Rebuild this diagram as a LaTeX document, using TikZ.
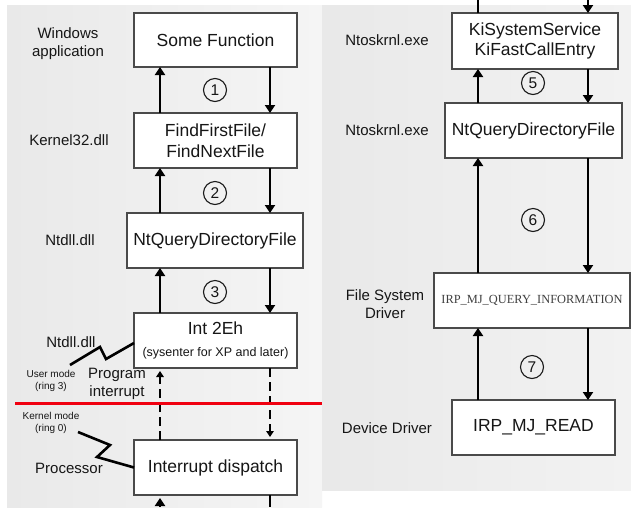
\documentclass[tikz,border=0pt]{standalone}
\usepackage{fontspec}
\setmainfont{Liberation Sans}
\newfontfamily\irpfont{Liberation Serif}
\usetikzlibrary{arrows.meta}
\definecolor{boxgray}{HTML}{4A4A4A}
\definecolor{txt}{HTML}{161616}
\definecolor{panelA}{HTML}{E9E9E9}
\definecolor{panelB}{HTML}{F5F5F5}
\definecolor{panelC}{HTML}{E9E9E9}
\definecolor{panelD}{HTML}{F2F2F2}
\definecolor{divider}{HTML}{F00010}
\begin{document}
\begin{tikzpicture}[x=1pt,y=-1pt,
  box/.style={draw=boxgray, line width=1.4pt, fill=white, inner sep=0pt,
    outer sep=0pt, align=center, text=txt,
    font=\fontsize{17.5}{20.5}\selectfont},
  lab/.style={align=center, text=txt, font=\fontsize{15}{18}\selectfont},
  tiny/.style={align=center, text=txt, font=\fontsize{10}{12.5}\selectfont},
  num/.style={circle, draw=black!90, line width=1.1pt, minimum size=23pt,
    inner sep=0pt, text=txt, font=\fontsize{15.5}{15.5}\selectfont},
  flow/.style={line width=2.8pt, -{Triangle[length=8pt,width=10pt]}},
  plain/.style={line width=2.8pt},
  dflow/.style={line width=1.6pt, dash pattern=on 9pt off 5pt,
    -{Triangle[length=6pt,width=7.5pt]}, shorten >=3pt},
  bolt/.style={line width=2.6pt, line join=miter, miter limit=8},
]
\useasboundingbox (0,0) rectangle (631,507);
\fill[white] (0,0) rectangle (631,507);

% panels
\shade[left color=panelA, right color=panelB] (7,5) rectangle (322,507);
\shade[left color=panelC, right color=panelD] (322,5) rectangle (631,490);

% column guides for the connectors
\coordinate (xa) at (160,0);
\coordinate (xb) at (270,0);
\coordinate (xc) at (478,0);
\coordinate (xd) at (588,0);

% user-mode side
\node[box, minimum width=163pt, minimum height=54pt] (sf) at (215.5,40) {Some Function};
\node[box, minimum width=163pt, minimum height=55pt] (ff) at (215.5,140.5) {FindFirstFile/\\FindNextFile};
\node[box, minimum width=176pt, minimum height=55pt] (nq) at (215,240.5) {NtQueryDirectoryFile};
\node[box, minimum width=163pt, minimum height=55pt] (int) at (215.5,340.5)
  {Int 2Eh\\[1.5pt]{\fontsize{12.5}{15}\selectfont (sysenter for XP and later)}};
\node[box, minimum width=163pt, minimum height=55pt] (disp) at (215.5,467.5) {Interrupt dispatch};

% kernel side
\node[box, minimum width=166pt, minimum height=56pt] (ki) at (535,41)
  {\fontsize{17.5}{22.5}\selectfont KiSystemService\\KiFastCallEntry};
\node[box, minimum width=177pt, minimum height=55pt] (nq2) at (533.5,130.5) {NtQueryDirectoryFile};
\node[box, minimum width=196pt, minimum height=55pt] (irpq) at (532,300.5)
  {\irpfont\fontsize{12.4}{14}\selectfont\color{black!75}IRP\_MJ\_QUERY\_INFORMATION};
\node[box, minimum width=163pt, minimum height=55pt] (irpr) at (533.5,427.5) {IRP\_MJ\_READ};

% layer labels
\node[lab] (l1) at (68,44) {Windows\\application};
\node[lab] (l2) at (69,140) {Kernel32.dll};
\node[lab] (l3) at (70,240) {Ntdll.dll};
\node[lab] (l4) at (71,342) {Ntdll.dll};
\node[tiny] (l5) at (51,381) {User mode\\(ring 3)};
\node[lab] (l6) at (117,384) {Program\\interrupt};
\node[tiny] (l7) at (51,423) {Kernel mode\\(ring 0)};
\node[lab] (l8) at (69,468) {Processor};
\node[lab] (r1) at (387,40) {Ntoskrnl.exe};
\node[lab] (r2) at (387,130) {Ntoskrnl.exe};
\node[lab] (r3) at (385,304) {File System\\Driver};
\node[lab] (r4) at (387,428) {Device Driver};

% step numbers
\node[num] (n1) at (215,90) {1};
\node[num] (n2) at (215,193) {2};
\node[num] (n3) at (215,292) {3};
\node[num] (n5) at (533,83) {5};
\node[num] (n6) at (533,220) {6};
\node[num] (n7) at (532,367) {7};

% call / return arrows, user side
\draw[flow] (ff.north -| xa) -- (sf.south -| xa);
\draw[flow] (sf.south -| xb) -- (ff.north -| xb);
\draw[flow] (nq.north -| xa) -- (ff.south -| xa);
\draw[flow] (ff.south -| xb) -- (nq.north -| xb);
\draw[flow] (int.north -| xa) -- (nq.south -| xa);
\draw[flow] (nq.south -| xb) -- (int.north -| xb);
\draw[dflow] (disp.north -| xa) -- (int.south -| xa);
\draw[dflow] (int.south -| xb) -- (disp.north -| xb);
\coordinate (ba) at (160,507);
\coordinate (bb) at (270,507);
\draw[flow, shorten >=3pt] (ba) -- (disp.south -| xa);
\draw[plain] (disp.south -| xb) -- (bb);

% call / return arrows, kernel side
\coordinate (tc) at (478,0);
\coordinate (td) at (588,0);
\draw[plain] (ki.north -| xc) -- (tc);
\draw[flow] (td) -- (ki.north -| xd);
\draw[flow] (nq2.north -| xc) -- (ki.south -| xc);
\draw[flow] (ki.south -| xd) -- (nq2.north -| xd);
\draw[flow] (irpq.north -| xc) -- (nq2.south -| xc);
\draw[flow] (nq2.south -| xd) -- (irpq.north -| xd);
\draw[flow] (irpr.north -| xc) -- (irpq.south -| xc);
\draw[flow] (irpq.south -| xd) -- (irpr.north -| xd);

% user / kernel boundary
\coordinate (redL) at (15,403);
\coordinate (redR) at (322,403);
\draw[divider, line width=3pt] (redL) -- (redR);

% interrupt bolts
\coordinate (bolt1) at (70,365);
\coordinate (bolt2) at (78,432);
\draw[bolt] (int.west |- 0,343) -- (106,359) -- (100,347) -- (bolt1);
\draw[bolt] (bolt2) -- (110,445) -- (97,457) -- (disp.west);
\end{tikzpicture}
\end{document}
